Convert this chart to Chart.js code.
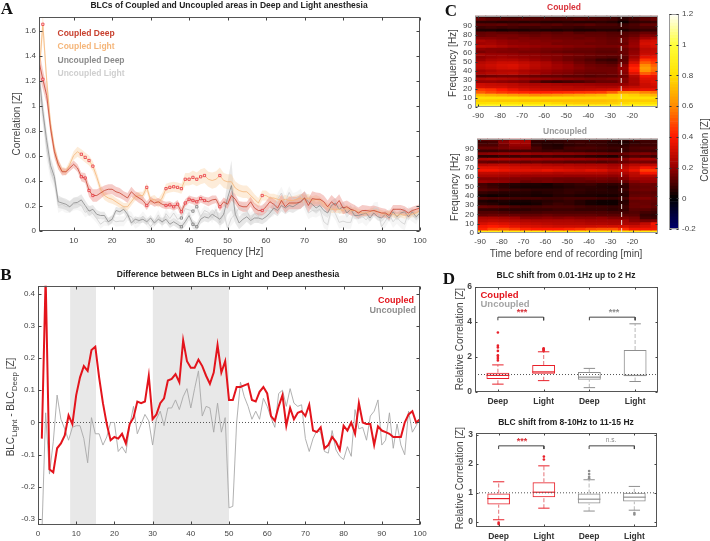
<!DOCTYPE html>
<html>
<head>
<meta charset="utf-8">
<script src="https://cdn.jsdelivr.net/npm/chart.js@4"></script>
<style>
  html, body { margin: 0; padding: 0; background: #fff; }
  body { width: 710px; height: 541px; position: relative; overflow: hidden; font-family: "Liberation Sans", Arial, sans-serif; }
  canvas { position: absolute; }
  .txt { position: absolute; white-space: nowrap; transform: translate(-50%, -50%); color: #333; }
  .letter { font-family: "Liberation Serif", serif; font-weight: bold; font-size: 17px; color: #111; }
  sub { font-size: 0.8em; }
</style>
</head>
<body>
<script>
// panel A: mean correlation per frequency, and the half width of the shaded band
const hzA = [];
for (let i = 1; i <= 100; i++) hzA.push(i);
const coupledDeep = [
  1.35,1.21,1.08,.82,.63,.53,.47,.47,.50,.53,
  .50,.43,.42,.32,.28,.28,.30,.32,.33,.33,
  .31,.30,.28,.26,.31,.28,.26,.24,.20,.24,
  .22,.23,.21,.20,.205,.19,.21,.15,.22,.25,
  .24,.23,.255,.24,.23,.245,.25,.19,.23,.21,
  .28,.25,.20,.19,.19,.23,.18,.16,.16,.19,
  .23,.21,.18,.24,.19,.22,.22,.22,.23,.26,
  .20,.255,.25,.25,.23,.19,.23,.20,.24,.18,
  .19,.17,.16,.14,.16,.16,.155,.16,.15,.14,
  .14,.12,.17,.17,.17,.16,.14,.16,.17,.18];
const coupledLight = [
  1.25,1.65,1.20,.85,.65,.53,.48,.47,.53,.60,
  .63,.61,.585,.56,.515,.43,.33,.28,.26,.25,
  .23,.21,.19,.19,.23,.27,.28,.28,.345,.24,
  .25,.22,.26,.335,.345,.35,.345,.335,.41,.41,
  .425,.41,.43,.44,.41,.40,.41,.44,.40,.39,
  .39,.34,.32,.31,.31,.28,.25,.22,.28,.28,
  .26,.26,.25,.24,.25,.24,.24,.25,.26,.25,
  .26,.24,.25,.24,.21,.19,.17,.17,.17,.16,
  .18,.16,.16,.15,.14,.14,.15,.16,.15,.14,
  .13,.14,.13,.12,.13,.12,.13,.13,.14,.16];
const uncoupledDeep = [
  1.25,.95,.72,.52,.43,.23,.22,.21,.19,.22,
  .225,.245,.20,.155,.17,.13,.12,.12,.07,.09,
  .16,.15,.17,.13,.06,.09,.08,.09,.07,.10,
  .06,.09,.07,.09,.05,.07,.05,.03,.07,.12,
  .05,.03,.09,.11,.10,.13,.11,.09,.13,.26,
  .36,.13,.06,.09,.11,.08,.10,.10,.09,.11,
  .14,.18,.16,.20,.18,.20,.19,.21,.23,.26,
  .23,.21,.18,.20,.16,.14,.20,.22,.17,.19,
  .14,.17,.12,.12,.13,.14,.10,.14,.11,.10,
  .13,.10,.15,.11,.14,.15,.11,.15,.11,.14];
const uncoupledLight = [
  1.10,.95,.65,.48,.40,.20,.21,.19,.19,.21,
  .215,.20,.145,.165,.135,.095,.05,.075,.07,.09,
  .07,.075,.075,.12,.11,.055,.075,.115,.075,.03,
  .07,.125,.06,.135,.095,.14,.09,.10,.175,.165,
  .155,.19,.11,.16,.145,.10,.17,.06,.14,.02,
  .10,.13,.185,.17,.16,.09,.135,.11,.165,.16,
  .155,.165,.25,.30,.23,.305,.25,.26,.285,.21,
  .14,.16,.155,.17,.07,.045,.175,.135,.065,.075,
  .065,.065,.16,.10,.115,.085,.12,.175,.18,.03,
  .075,.13,.07,.105,.07,.05,.145,.12,.10,.155];
const coupledDeepBand = [
  .10,.08,.07,.06,.05,.04,.03,.025,.025,.03,
  .03,.035,.04,.05,.05,.05,.045,.04,.04,.04,
  .04,.04,.035,.04,.04,.035,.04,.035,.035,.03,
  .03,.03,.03,.03,.03,.03,.035,.035,.03,.03,
  .03,.035,.03,.03,.035,.035,.03,.035,.035,.035,
  .04,.04,.035,.04,.04,.04,.04,.04,.04,.045,
  .045,.045,.05,.05,.05,.05,.05,.05,.055,.055,
  .055,.06,.055,.05,.05,.05,.055,.055,.05,.05,
  .05,.05,.045,.045,.045,.04,.04,.04,.04,.04,
  .035,.035,.035,.035,.035,.035,.035,.03,.03,.03];
const coupledLightBand = [
  .10,.09,.07,.06,.05,.04,.03,.03,.03,.035,
  .04,.04,.04,.04,.04,.04,.04,.035,.035,.035,
  .03,.03,.03,.03,.03,.03,.03,.03,.035,.035,
  .035,.035,.04,.04,.04,.04,.04,.04,.05,.05,
  .055,.055,.06,.06,.06,.065,.065,.065,.06,.06,
  .06,.055,.05,.05,.05,.05,.04,.04,.04,.04,
  .035,.035,.035,.035,.035,.035,.035,.035,.035,.035,
  .035,.035,.035,.03,.03,.03,.03,.03,.03,.03,
  .03,.025,.025,.025,.025,.025,.025,.025,.025,.025,
  .025,.025,.025,.025,.025,.025,.025,.025,.03,.03];
const uncoupledDeepBand = [
  .10,.09,.08,.07,.06,.05,.045,.045,.045,.045,
  .045,.045,.04,.04,.035,.035,.03,.03,.03,.03,
  .03,.03,.03,.03,.025,.025,.025,.025,.025,.025,
  .025,.025,.03,.03,.03,.03,.03,.03,.035,.035,
  .035,.035,.035,.035,.035,.04,.04,.05,.07,.13,
  .20,.07,.05,.05,.04,.04,.04,.04,.04,.04,
  .04,.045,.045,.045,.05,.05,.05,.05,.055,.055,
  .05,.05,.045,.04,.04,.04,.04,.04,.04,.04,
  .035,.035,.03,.03,.03,.03,.03,.03,.03,.03,
  .03,.03,.03,.03,.03,.03,.03,.03,.03,.03];
const uncoupledLightBand = [
  .12,.10,.09,.08,.07,.06,.05,.05,.05,.05,
  .05,.05,.04,.04,.04,.035,.035,.035,.035,.035,
  .04,.04,.04,.04,.04,.04,.04,.04,.04,.04,
  .04,.04,.04,.04,.04,.04,.04,.04,.04,.04,
  .04,.04,.04,.04,.04,.04,.04,.05,.05,.06,
  .06,.05,.05,.05,.05,.05,.05,.05,.05,.05,
  .05,.05,.05,.05,.05,.05,.05,.05,.05,.05,
  .05,.05,.05,.05,.05,.05,.05,.05,.05,.05,
  .05,.05,.05,.05,.05,.05,.05,.05,.05,.05,
  .05,.05,.05,.05,.05,.05,.05,.05,.05,.05];
const sigCoupled = [2,12,13,14,15,29,34,35,36,37,38,39,40,41,42,43,44,48,59];
const sigUncoupled = [38,41,42];
const ticksAx = [10,20,30,40,50,60,70,80,90,100];
const ticksAy = [0,0.2,0.4,0.6,0.8,1,1.2,1.4,1.6];

// panel B: light minus deep
const diffCoupled = [
  -.05,.45,-.145,-.155,-.08,-.065,-.04,.022,-.005,.085,
  .14,.175,.16,.225,.235,.14,.06,-.005,-.055,-.045,
  -.05,-.035,-.065,-.005,.015,.065,.06,.065,.145,.01,
  .025,.06,.075,.13,.135,.15,.125,.255,.19,.17,
  .17,.195,.175,.145,.12,.155,.24,.155,.19,.07,
  .07,.11,.11,.115,.12,.07,.065,.095,.11,.09,
  .02,.005,.05,.085,-.01,.045,.01,.03,.035,.02,
  .055,-.025,-.03,-.015,-.08,-.07,-.045,-.06,-.085,-.01,
  -.025,0,-.035,.06,0,-.005,-.005,-.07,-.012,-.025,
  -.03,-.035,-.045,-.045,-.045,0,.025,.035,0,.01];
const diffUncoupled = [
  -.35,.03,-.16,-.06,.085,.01,-.02,-.055,-.015,-.01,
  -.01,-.05,-.125,.015,-.035,-.035,-.07,-.045,0,0,
  -.09,-.075,-.095,-.01,.05,-.035,-.005,.025,.005,-.07,
  .01,.035,-.01,.045,.045,.07,.04,.08,.105,.045,
  .105,.16,.02,.05,.045,-.03,.06,-.03,.015,-.265,
  -.26,0,.125,.08,.05,.01,.035,.01,.075,.05,
  .015,-.015,.09,.10,.05,.105,.06,.05,.055,-.05,
  -.09,-.05,-.025,-.03,-.09,-.095,-.025,-.085,-.105,-.115,
  -.075,-.105,.04,-.02,-.015,-.055,.02,.035,.07,-.07,
  -.055,.03,-.08,-.005,-.07,-.1,.035,-.03,-.01,.015];
const shadedHz = [[8.4,15.2],[30,50]];
const ticksBx = [0,10,20,30,40,50,60,70,80,90,100];
const ticksBy = [-0.3,-0.2,-0.1,0,0.1,0.2,0.3,0.4];

// panel C: correlation x 100, one row per 3 Hz band (top row = highest), one column per 5 min
const heatTimes = [-89,-84,-79,-74,-69,-64,-59,-54,-49,-44,-39,-34,-29,-24,-19,-14,-9];
const heatRowHz = [99,96,93,90,87,84,81,78,75,72,69,66,63,60,57,54,51,48,45,42,39,36,33,30,27,24,21,18,15,12,9,6,3,0];
const heatCoupled = [
  [10,8,8,7,8,9,8,7,8,8,9,8,8,5,8,10,12],
  [14,12,12,11,12,11,11,10,10,12,11,10,9,6,9,12,14],
  [6,6,5,6,5,6,5,5,6,5,5,6,5,2,6,7,8],
  [12,12,13,11,12,12,11,12,10,11,12,10,10,8,10,13,13],
  [8,9,8,9,8,8,9,8,8,7,8,8,8,8,9,10,10],
  [4,4,3,4,4,5,4,4,5,4,4,5,5,4,6,7,7],
  [13,14,13,13,12,12,13,12,13,11,12,12,11,11,12,14,13],
  [14,15,16,16,15,14,15,14,14,14,13,13,12,12,14,18,17],
  [18,18,17,16,17,16,16,15,15,14,15,14,13,14,17,22,24],
  [24,22,20,19,18,18,17,17,16,16,16,15,14,15,19,30,31],
  [22,23,21,19,19,18,18,16,16,16,15,15,14,14,20,32,33],
  [27,26,24,22,21,20,19,19,18,17,17,16,16,17,21,30,32],
  [19,18,18,17,18,17,16,16,15,14,14,13,13,14,18,27,28],
  [16,18,17,17,16,16,15,14,13,13,13,12,12,14,19,28,29],
  [23,21,21,20,19,19,18,18,17,16,15,14,14,14,20,30,30],
  [19,21,22,21,20,19,18,17,15,14,13,12,11,12,22,35,36],
  [21,24,25,25,23,21,19,17,15,13,11,8,7,12,26,45,42],
  [26,28,30,30,28,26,24,20,18,15,13,11,10,14,32,52,46],
  [28,30,32,33,30,27,25,22,20,17,15,14,13,18,38,60,52],
  [27,29,31,32,29,26,24,22,20,18,16,15,15,20,42,64,56],
  [22,24,26,26,24,22,21,19,18,16,15,15,15,19,40,62,54],
  [24,26,27,28,25,23,20,18,17,15,14,14,15,18,34,52,46],
  [14,15,16,16,15,14,13,13,12,12,11,12,12,15,26,38,36],
  [25,26,25,24,22,21,20,19,18,17,16,16,17,18,24,34,34],
  [20,20,19,18,17,13,9,8,9,10,12,14,14,17,24,32,34],
  [30,29,28,27,25,24,24,23,22,22,21,20,20,20,23,30,32],
  [32,31,31,29,28,27,26,26,26,25,25,24,24,26,28,30,30],
  [46,44,40,36,33,31,30,29,28,28,29,30,31,33,34,36,36],
  [52,48,45,43,42,41,41,42,43,44,45,46,52,62,62,58,56],
  [70,68,66,64,62,60,60,62,64,66,68,70,76,78,76,72,70],
  [80,80,80,80,79,79,79,79,79,78,78,78,78,80,80,80,80],
  [76,75,74,74,73,73,72,72,72,72,72,72,73,75,75,75,75],
  [80,81,81,81,80,80,80,78,76,75,75,75,76,78,80,80,80],
  [96,96,96,96,96,95,95,95,95,94,94,94,94,94,94,94,94]];
const heatUncoupled = [
  [12,12,16,22,22,8,8,7,8,8,9,9,8,7,10,9,8],
  [8,9,18,24,23,6,5,6,7,8,7,7,5,4,6,8,8],
  [10,10,15,20,20,7,5,4,6,7,8,7,6,6,8,8,8],
  [14,14,16,18,18,10,6,5,9,10,10,9,8,8,10,11,11],
  [8,8,9,9,9,9,8,9,8,8,7,7,6,7,9,9,8],
  [18,19,20,20,21,19,19,18,18,17,16,15,14,14,16,17,15],
  [6,6,8,8,9,8,9,8,8,7,6,5,4,9,11,10,8],
  [23,24,24,23,22,22,21,21,20,20,19,18,17,18,22,23,22],
  [14,13,14,14,13,14,13,13,12,12,12,11,12,14,16,16,15],
  [26,27,28,27,26,26,25,24,25,24,24,24,22,23,26,27,27],
  [34,34,33,32,31,30,30,30,29,28,28,27,25,27,32,38,36],
  [38,38,36,34,34,34,36,34,33,32,34,33,29,30,36,46,46],
  [28,28,27,27,27,26,26,25,26,26,26,26,24,25,28,38,38],
  [24,24,23,22,21,21,21,21,20,20,20,20,19,20,26,26,26],
  [18,18,18,17,17,16,16,15,15,15,16,16,15,17,22,22,22],
  [21,20,19,17,14,15,16,15,14,14,13,14,13,14,18,20,20],
  [9,7,6,5,4,4,3,5,6,7,8,6,6,7,14,15,14],
  [10,8,6,4,3,3,3,4,5,6,6,5,4,6,13,14,14],
  [12,11,9,8,7,6,6,6,7,7,6,6,5,8,14,15,14],
  [7,6,5,5,5,4,5,6,7,6,5,5,5,6,12,13,12],
  [3,2,3,4,4,3,3,5,5,4,4,3,3,5,13,14,13],
  [11,10,10,9,9,9,8,8,9,9,9,8,7,9,16,17,15],
  [4,3,4,3,3,4,5,6,7,5,3,2,2,5,13,14,13],
  [6,5,3,2,2,3,6,8,7,5,3,2,2,6,14,14,12],
  [14,13,12,10,9,9,10,10,10,9,8,8,7,8,14,15,13],
  [7,7,6,6,6,7,7,8,8,7,7,7,6,7,12,12,10],
  [11,11,10,9,9,9,10,10,10,10,10,10,9,9,11,9,8],
  [13,14,14,14,13,13,14,13,13,13,13,12,12,12,12,7,6],
  [24,24,23,22,18,18,19,18,19,18,18,19,17,17,16,9,8],
  [27,28,27,26,25,24,24,24,24,23,22,22,22,22,18,16,17],
  [32,34,33,31,29,28,27,26,26,26,25,25,24,24,24,28,38],
  [38,40,38,35,33,32,31,30,30,30,30,31,31,32,30,32,36],
  [42,48,50,46,42,40,40,40,42,44,48,50,50,44,38,38,38],
  [88,88,88,88,88,88,86,86,86,86,86,86,86,86,86,86,86]];
const recordingMark = -25;
const ticksCx = [-90,-80,-70,-60,-50,-40,-30,-20];
const ticksCy = [0,10,20,30,40,50,60,70,80,90];
const ticksBar = [-0.2,0,0.2,0.4,0.6,0.8,1,1.2];

// panel D: box statistics [low whisker, q1, median, q3, high whisker] per group
const groupLabels = ['Deep','Light','Deep','Light'];
const groupColors = ['#e8202a','#e8202a','#8f8f8f','#8f8f8f'];
const boxesSlow = [[.45,.75,.95,1.1,1.55],[.65,1.05,1.15,1.55,2.3],[.25,.7,.85,1.15,1.35],[.6,.9,.95,2.4,3.9]];
const outliersSlow = [[1.8,1.9,2.0,2.1,2.35,2.55,2.65,3.4],[2.35,2.4,2.45,2.5],[],[]];
const boxesAlpha = [[.07,.6,.8,.98,1.38],[.47,.85,1.02,1.36,1.93],[.37,.63,.78,.98,1.45],[.4,.7,.85,1.0,1.22]];
const outliersAlpha = [[-.08,-.03],[2.15,2.25],[1.5,1.55,1.65,1.75],[.25,.3]];
const ticksD1 = [0,2,4,6];
const ticksD2 = [0,1,2,3];

// colormap of the heatmaps
const mapStops = [[-0.2,0,0,110],[0,0,0,0],[0.2,150,0,0],[0.4,255,25,0],[0.6,255,140,0],[0.8,255,225,0],[1,255,255,60],[1.2,255,255,255]];
function heatColor(v) {
  for (let i = 1; i < mapStops.length; i++) {
    if (v <= mapStops[i][0]) {
      const a = mapStops[i - 1], b = mapStops[i];
      const t = Math.max(0, (v - a[0]) / (b[0] - a[0]));
      return `rgb(${a[1] + (b[1] - a[1]) * t},${a[2] + (b[2] - a[2]) * t},${a[3] + (b[3] - a[3]) * t})`;
    }
  }
  return '#fff';
}

// matlab style box with inward ticks
const axisFrame = {
  id: 'axisFrame',
  afterDatasetsDraw(chart, args, opts) {
    const { ctx, chartArea: a, scales } = chart;
    const L = Math.round(a.left) + 0.5, R = Math.round(a.right) - 0.5, T = Math.round(a.top) + 0.5, B = Math.round(a.bottom) - 0.5;
    ctx.save();
    ctx.strokeStyle = opts.color || '#555';
    ctx.lineWidth = 1;
    ctx.strokeRect(L, T, R - L, B - T);
    const len = opts.len || 3;
    ctx.beginPath();
    if (scales.x && scales.x.options.display) {
      scales.x.ticks.forEach(t => {
        const p = Math.round(scales.x.getPixelForValue(t.value)) + 0.5;
        ctx.moveTo(p, B); ctx.lineTo(p, B - len);
        ctx.moveTo(p, T); ctx.lineTo(p, T + len);
      });
    }
    scales.y.ticks.forEach(t => {
      const p = Math.round(scales.y.getPixelForValue(t.value)) + 0.5;
      ctx.moveTo(L, p); ctx.lineTo(L + len, p);
      ctx.moveTo(R, p); ctx.lineTo(R - len, p);
    });
    ctx.strokeStyle = opts.tickColor || '#444';
    ctx.stroke();
    ctx.restore();
  }
};
Chart.register(axisFrame);
Chart.defaults.font.family = '"Liberation Sans", Arial, sans-serif';
Chart.defaults.color = '#444';

function axis(min, max, tickList, size, extra, pad) {
  return Object.assign({
    type: 'linear', min, max, offset: false,
    afterBuildTicks: s => { s.ticks = tickList.map(v => ({ value: v })); },
    grid: { display: false, drawTicks: false },
    border: { display: false },
    ticks: { font: { size: size || 8 }, padding: pad || 3, autoSkip: false, maxRotation: 0, callback: v => String(v) }
  }, extra || {});
}
function axisTitle(text, size) {
  return { display: true, text, color: '#444', font: { size: size || 10 }, padding: 0 };
}

// plot box in page pixels, margins give the room left for the axes around it
function makeChart(box, m, config) {
  const c = document.createElement('canvas');
  const w = box.r - box.l + m.l + m.r, h = box.b - box.t + m.t + m.b;
  c.width = w; c.height = h;
  c.style.left = (box.l - m.l) + 'px';
  c.style.top = (box.t - m.t) + 'px';
  c.style.width = w + 'px';
  c.style.height = h + 'px';
  if (config.blur) c.style.filter = `blur(${config.blur}px)`;
  document.body.appendChild(c);
  const sc = config.scales;
  sc.x.afterFit = s => { s.height = m.b; };
  sc.y.afterFit = s => { s.width = sc.y.position === 'right' ? m.r : m.l; };
  return new Chart(c, {
    type: config.type || 'line',
    data: { datasets: config.datasets },
    options: {
      responsive: false, animation: false, devicePixelRatio: 1,
      layout: { padding: { top: m.t, right: sc.y.position === 'right' ? 0 : m.r, left: sc.y.position === 'right' ? m.l : 0, bottom: 0 } },
      scales: sc,
      plugins: { legend: { display: false }, tooltip: { enabled: false }, title: { display: false }, axisFrame: config.frame || {} }
    }
  });
}

function label(text, x, y, style, cls) {
  const d = document.createElement('div');
  d.className = 'txt ' + (cls || '');
  d.innerHTML = text;
  d.style.left = x + 'px';
  d.style.top = y + 'px';
  Object.assign(d.style, style || {});
  document.body.appendChild(d);
  return d;
}
function rotated(text, x, y, style) {
  const d = label(text, x, y, style);
  d.style.transform = 'translate(-50%, -50%) rotate(-90deg)';
}
const xy = (xs, ys) => xs.map((x, i) => ({ x, y: ys[i] }));
function line(data, color, width, extra) {
  return Object.assign({ type: 'line', data, borderColor: color, borderWidth: width, pointRadius: 0, tension: 0, fill: false }, extra || {});
}

// ---- A
function bandPair(vals, band, fillColor) {
  return [
    line(xy(hzA, vals.map((v, i) => v + band[i])), 'transparent', 0, { fill: '+1', backgroundColor: fillColor }),
    line(xy(hzA, vals.map((v, i) => Math.max(v - band[i], 0))), 'transparent', 0)
  ];
}
const sigPoint = (list, hz) => list.includes(hz) ? 1.6 : 0;
function sigLine(vals, color, list, mark) {
  return line(xy(hzA, vals), color, 0.8, {
    pointStyle: 'rect',
    pointRadius: c => sigPoint(list, c.raw ? c.raw.x : 0),
    pointBorderColor: mark, pointBackgroundColor: 'rgba(255,255,255,0.6)', pointBorderWidth: 0.8
  });
}
makeChart({ l: 39, t: 15, r: 420, b: 231 }, { l: 28, t: 6, r: 12, b: 27 }, {
  scales: {
    x: axis(1, 100, ticksAx, 8, { title: axisTitle('Frequency [Hz]') }, 5),
    y: axis(-0.004, 1.71, ticksAy, 8, { title: axisTitle('Correlation [Z]') })
  },
  datasets: [
    sigLine(coupledDeep, '#c8412f', sigCoupled, '#e8303a'),
    sigLine(coupledLight, '#f5b67a', sigCoupled, '#e8303a'),
    sigLine(uncoupledDeep, '#8c8c8c', sigUncoupled, '#777'),
    sigLine(uncoupledLight, '#cfcfcf', sigUncoupled, '#777'),
    ...bandPair(coupledDeep, coupledDeepBand, 'rgba(232,120,110,0.38)'),
    ...bandPair(coupledLight, coupledLightBand, 'rgba(250,205,155,0.38)'),
    ...bandPair(uncoupledDeep, uncoupledDeepBand, 'rgba(190,190,190,0.35)'),
    ...bandPair(uncoupledLight, uncoupledLightBand, 'rgba(225,225,225,0.3)')
  ]
});

// ---- B
const bMax = 0.424, bMin = -0.318;
makeChart({ l: 38, t: 284, r: 420, b: 525 }, { l: 28, t: 6, r: 12, b: 16 }, {
  scales: {
    x: axis(0, 100, ticksBx, 8, null, 4),
    y: axis(bMin, bMax, ticksBy, 8)
  },
  datasets: [
    line(xy(hzA, diffCoupled), '#e3141c', 2),
    line(xy(hzA, diffUncoupled), '#a8a8a8', 0.9),
    line([{ x: 0, y: 0 }, { x: 100, y: 0 }], '#555', 1, { borderDash: [1, 2] }),
    ...shadedHz.map(r => line(r.map(x => ({ x, y: bMax })), 'transparent', 0, { fill: 'start', backgroundColor: '#e8e8e8' }))
  ]
});

// ---- C
function heatDatasets(rows) {
  return rows.map((row, r) => ({
    type: 'bar',
    data: row.map((v, c) => ({ x: heatTimes[c], y: [heatRowHz[r], heatRowHz[r] + 3] })),
    backgroundColor: row.map(v => heatColor(v / 100)),
    borderWidth: 0, barPercentage: 1, categoryPercentage: 1, grouped: false
  }));
}
function heatPanel(box, rows, yMax) {
  const mark = line([{ x: recordingMark, y: 0 }, { x: recordingMark, y: yMax }], '#e8e0d8', 1, { borderDash: [5, 3] });
  makeChart(box, { l: 25, t: 6, r: 8, b: 15 }, {
    type: 'bar',
    blur: 0.55,
    frame: { color: '#999', tickColor: '#333', len: 2 },
    scales: {
      x: axis(-91.4, -8.3, ticksCx, 8, null, 4),
      y: axis(0, yMax, ticksCy, 8)
    },
    datasets: [mark, ...heatDatasets(rows)]
  });
}
heatPanel({ l: 475, t: 14, r: 658, b: 107 }, heatCoupled, 101);
heatPanel({ l: 477, t: 137, r: 658, b: 233 }, heatUncoupled, 101);

// colorbar
const barLevels = [];
for (let v = -20; v < 120; v += 2) barLevels.push(v / 100);
makeChart({ l: 669, t: 12, r: 679, b: 231 }, { l: 2, t: 6, r: 18, b: 6 }, {
  type: 'bar',
  frame: { color: '#999', tickColor: '#333', len: 2 },
  scales: {
    x: { type: 'linear', min: -0.5, max: 0.5, offset: false, display: false },
    y: axis(-0.2, 1.2, ticksBar, 8, { position: 'right' })
  },
  datasets: barLevels.map(v => ({
    type: 'bar', data: [{ x: 0, y: [v, v + 0.02] }], backgroundColor: heatColor(v + 0.01),
    borderWidth: 0, barPercentage: 1, categoryPercentage: 1, grouped: false
  }))
});

// ---- D
function segments(list) {
  const out = [];
  list.forEach(s => { out.push({ x: s[0], y: s[1] }, { x: s[2], y: s[3] }, { x: s[2], y: null }); });
  return out;
}
function boxDatasets(boxes, outliers, bracketY, drop) {
  const sets = [];
  boxes.forEach((b, i) => {
    const x = i + 1, col = groupColors[i];
    sets.push(line(segments([[x - 0.25, b[2], x + 0.25, b[2]]]), col, 1.2, { order: 1 }));
    sets.push(line(segments([[x - 0.125, b[0], x + 0.125, b[0]], [x - 0.125, b[4], x + 0.125, b[4]]]), col, 1, { order: 1 }));
    sets.push(line(segments([[x, b[0], x, b[1]], [x, b[3], x, b[4]]]), col === '#e8202a' ? '#e98a8e' : '#c4c4c4', 1.2, { borderDash: [4, 2], order: 1 }));
    sets.push({ type: 'bar', data: [{ x, y: [b[1], b[3]] }], borderColor: col, backgroundColor: 'transparent', borderWidth: 1, borderSkipped: false, barPercentage: 0.5, categoryPercentage: 1, grouped: false, order: 2 });
    sets.push(line(outliers[i].map(y => ({ x, y })), 'transparent', 0, { showLine: false, pointRadius: 1.3, pointBackgroundColor: col, pointBorderWidth: 0, order: 1 }));
  });
  sets.push(line([{ x: 0.5, y: 1 }, { x: 4.5, y: 1 }], '#555', 1, { borderDash: [1, 2], order: 0 }));
  sets.push(line(segments([[1, bracketY - drop, 1, bracketY], [1, bracketY, 2, bracketY], [2, bracketY, 2, bracketY - drop],
    [3, bracketY - drop, 3, bracketY], [3, bracketY, 4, bracketY], [4, bracketY, 4, bracketY - drop]]), '#444', 1, { order: 1 }));
  return sets;
}
function boxPanel(box, yMin, yMax, ticks, boxes, outliers, bracketY, drop) {
  const xAxis = axis(0.5, 4.5, [1, 2, 3, 4], 8.5, null, 5);
  xAxis.ticks.callback = v => groupLabels[v - 1];
  xAxis.ticks.font = { size: 8.5, weight: 'bold' };
  xAxis.ticks.color = '#333';
  const yAxis = axis(yMin, yMax, ticks, 8.5);
  yAxis.ticks.font = { size: 8.5, weight: 'bold' };
  makeChart(box, { l: 25, t: 6, r: 8, b: 17 }, {
    type: 'bar',
    frame: { color: '#555', len: 2 },
    scales: { x: xAxis, y: yAxis },
    datasets: boxDatasets(boxes, outliers, bracketY, drop)
  });
}
boxPanel({ l: 475, t: 285, r: 658, b: 392 }, 0, 6, ticksD1, boxesSlow, outliersSlow, 4.28, 0.18);
boxPanel({ l: 476, t: 431, r: 657, b: 527 }, -0.18, 3.06, ticksD2, boxesAlpha, outliersAlpha, 2.62, 0.11);

// ---- text
const bold = (size, color) => ({ fontWeight: 'bold', fontSize: size + 'px', color: color || '#222' });
label('A', 7, 9, {}, 'letter');
label('B', 6, 275, {}, 'letter');
label('C', 451, 11, {}, 'letter');
label('D', 449, 279, {}, 'letter');
label('BLCs of Coupled and Uncoupled areas in Deep and Light anesthesia', 229, 5, bold(8.5));
label('Difference between BLCs in Light and Deep anesthesia', 228, 274, bold(8.5));
label('BLC shift from 0.01-1Hz up to 2 Hz', 566, 275, bold(8.5));
label('BLC shift from 8-10Hz to 11-15 Hz', 566, 422, bold(8.5));
label('Coupled', 564, 7, bold(8.5, '#d8323a'));
label('Uncoupled', 565, 131, bold(8.5, '#999'));
[['Coupled Deep', 33, '#c8412f'], ['Coupled Light', 46, '#f5b67a'], ['Uncoupled Deep', 59.5, '#8c8c8c'], ['Uncoupled Light', 73, '#cfcfcf']].forEach(t => {
  const d = label(t[0], 57.5, t[1], bold(8.5, t[2]));
  d.style.transform = 'translate(0, -50%)';
});
[['Coupled', 414, 300, '#e3141c'], ['Uncoupled', 416, 310, '#8f8f8f']].forEach(t => {
  const d = label(t[0], t[1], t[2], bold(9, t[3]));
  d.style.transform = 'translate(-100%, -50%)';
});
[['Coupled', 294, '#e3141c'], ['Uncoupled', 303, '#a5a5a5']].forEach(t => {
  const d = label(t[0], 480.5, t[1], bold(9.5, t[2]));
  d.style.transform = 'translate(0, -50%)';
});
rotated('BLC<sub>Light</sub> - BLC<sub>Deep</sub> [Z]', 12, 407, { fontSize: '10px', color: '#444' });
rotated('Frequency [Hz]', 452, 63, { fontSize: '10px', color: '#444' });
rotated('Frequency [Hz]', 454, 187, { fontSize: '10px', color: '#444' });
rotated('Correlation [Z]', 704, 150, { fontSize: '10px', color: '#444' });
rotated('Relative Correlation [Z]', 459, 339, { fontSize: '10px', color: '#444' });
rotated('Relative Correlation [Z]', 459, 478, { fontSize: '10px', color: '#444' });
label('Time before end of recording [min]', 566, 253, { fontSize: '10px', color: '#444' });
label('***', 522, 312, bold(9, '#d8323a'));
label('***', 614, 312, bold(9, '#8f8f8f'));
label('***', 522, 441, bold(9, '#d8323a'));
label('n.s.', 611, 438.5, { fontSize: '6.5px', color: '#888' });
</script>
</body>
</html>
